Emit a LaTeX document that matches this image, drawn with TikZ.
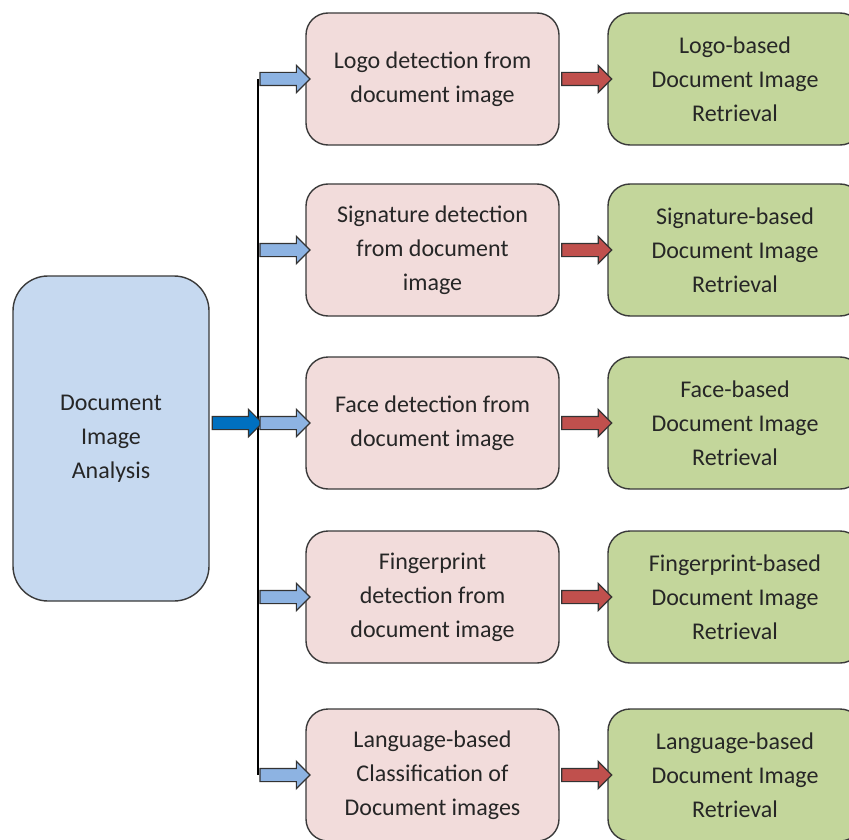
\documentclass[tikz,border=0pt]{standalone}
\usepackage{fontspec}
\setmainfont{Carlito}
\usetikzlibrary{shapes.arrows,calc}
\definecolor{leftfill}{HTML}{C6D9F0}
\definecolor{pinkfill}{HTML}{F2DCDB}
\definecolor{greenfill}{HTML}{C3D69B}
\definecolor{lightarrow}{HTML}{8DB3E2}
\definecolor{darkarrow}{HTML}{0070C0}
\definecolor{redarrow}{HTML}{C0504D}
\definecolor{edge}{HTML}{3A3A3A}
\tikzset{
  box/.style={draw=edge, line width=1.4pt, align=center, inner sep=2pt,
    font=\fontsize{24}{34}\selectfont, text=black!85},
  leftbox/.style={box, fill=leftfill, rounded corners=35pt, minimum width=196pt, minimum height=325pt},
  pinkbox/.style={box, fill=pinkfill, rounded corners=22pt, minimum width=253pt, minimum height=132pt},
  greenbox/.style={box, fill=greenfill, rounded corners=22pt, minimum width=254pt, minimum height=132pt},
  fatarrow/.style={single arrow, draw=black!80, line width=1.2pt, inner xsep=0pt, inner ysep=6pt,
    single arrow head extend=7pt, minimum height=50pt, anchor=center},
  bluearrow/.style={fatarrow, fill=lightarrow},
  darkblue/.style={fatarrow, fill=darkarrow},
  redar/.style={fatarrow, fill=redarrow},
}
\begin{document}
\begin{tikzpicture}[x=1pt,y=-1pt]
\clip (0,0) rectangle (849,840);
\fill[white] (0,0) rectangle (849,840);

\node[leftbox] (dia) at (111,438.5) {Document\\Image\\Analysis};

\node[pinkbox] (p1) at (432.5,79) {Logo detection from\\document image};
\node[pinkbox] (p2) at (432.5,250) {Signature detection\\from document\\image};
\node[pinkbox] (p3) at (432.5,423) {Face detection from\\document image};
\node[pinkbox] (p4) at (432.5,597) {Fingerprint\\detection from\\document image};
\node[pinkbox] (p5) at (432.5,775) {Language-based\\Classification of\\Document images};

\node[greenbox] (g1) at (735,79) {Logo-based\\Document Image\\Retrieval};
\node[greenbox] (g2) at (735,250) {Signature-based\\Document Image\\Retrieval};
\node[greenbox] (g3) at (735,423) {Face-based\\Document Image\\Retrieval};
\node[greenbox] (g4) at (735,597) {Fingerprint-based\\Document Image\\Retrieval};
\node[greenbox] (g5) at (735,775) {Language-based\\Document Image\\Retrieval};

\foreach \i in {1,...,5} {
  \coordinate (bus\i) at (258,0 |- p\i.west);
}
\draw[black, line width=1.3pt] (bus1) -- (bus5);

\node[darkblue] (hubarrow) at ($(dia.east |- bus3)!0.5!(bus3)$) {};

\foreach \i in {1,...,5} {
  \node[bluearrow] (ba\i) at ($(bus\i)!0.5!(p\i.west)$) {};
  \node[redar] (ra\i) at ($(p\i.east)!0.5!(g\i.west)$) {};
}
\end{tikzpicture}
\end{document}
